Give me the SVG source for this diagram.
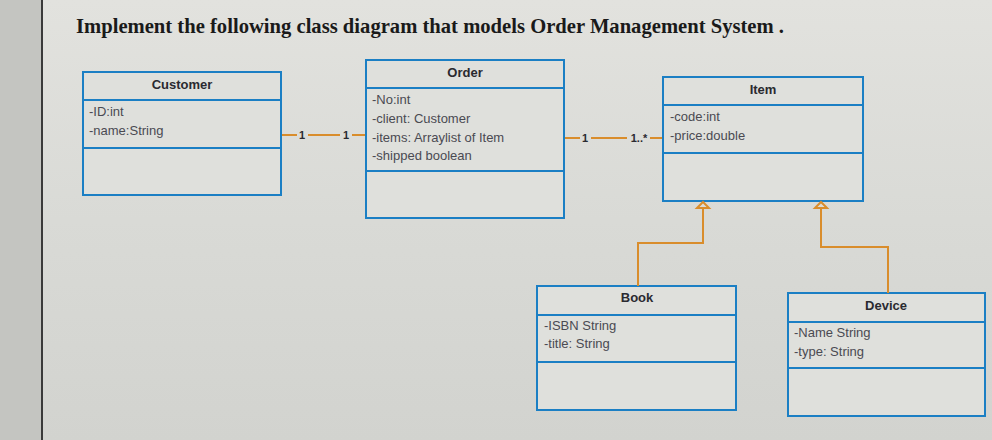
<svg xmlns="http://www.w3.org/2000/svg" width="992" height="440" viewBox="0 0 992 440">
<defs>
<linearGradient id="bg" x1="0" y1="0" x2="0" y2="1">
<stop offset="0" stop-color="#e2e2de"/>
<stop offset="0.5" stop-color="#d9dad6"/>
<stop offset="1" stop-color="#d2d3cf"/>
</linearGradient>
<style>
.box{fill:#dfe0dc;stroke:#1b7fc4;stroke-width:2}
.div{stroke:#1b7fc4;stroke-width:2}
.cname{font-family:"Liberation Sans",Arial,sans-serif;font-weight:bold;font-size:13px;fill:#2a2a30;text-anchor:middle}
.attr{font-family:"Liberation Sans",Arial,sans-serif;font-size:13px;fill:#4a4a52}
.con{stroke:#d98d2c;stroke-width:2;fill:none}
.tri{stroke:#d98d2c;stroke-width:2;fill:#dcddd9}
.mult{font-family:"Liberation Sans",Arial,sans-serif;font-weight:bold;font-size:11px;fill:#2a2a30;text-anchor:middle}
</style>
</defs>
<rect x="0" y="0" width="992" height="440" fill="url(#bg)"/>
<rect x="0" y="0" width="42" height="440" fill="#c4c5c1"/>
<line x1="42" y1="0" x2="42" y2="440" stroke="#3a3a3a" stroke-width="2"/>
<text x="76" y="33" font-family="'Liberation Serif','Times New Roman',serif" font-weight="bold" font-size="22" fill="#1a1a1a" textLength="708" lengthAdjust="spacingAndGlyphs">Implement the following class diagram that models Order Management System .</text>

<g id="customer">
<rect class="box" x="83" y="72" width="198" height="123"/>
<line class="div" x1="83" y1="100" x2="281" y2="100"/>
<line class="div" x1="83" y1="148" x2="281" y2="148"/>
<text class="cname" x="182" y="89">Customer</text>
<text class="attr" x="89" y="116">-ID:int</text>
<text class="attr" x="89" y="135">-name:String</text>
</g>

<g id="order">
<rect class="box" x="366" y="60" width="198" height="158"/>
<line class="div" x1="366" y1="88" x2="564" y2="88"/>
<line class="div" x1="366" y1="171" x2="564" y2="171"/>
<text class="cname" x="465" y="77">Order</text>
<text class="attr" x="372" y="104">-No:int</text>
<text class="attr" x="372" y="123">-client: Customer</text>
<text class="attr" x="372" y="142">-items: Arraylist of Item</text>
<text class="attr" x="372" y="160">-shipped boolean</text>
</g>

<g id="item">
<rect class="box" x="663" y="77" width="200" height="124"/>
<line class="div" x1="663" y1="105" x2="863" y2="105"/>
<line class="div" x1="663" y1="153" x2="863" y2="153"/>
<text class="cname" x="763" y="94">Item</text>
<text class="attr" x="670" y="121">-code:int</text>
<text class="attr" x="670" y="140">-price:double</text>
</g>

<g id="book">
<rect class="box" x="537" y="286" width="199" height="124"/>
<line class="div" x1="537" y1="315" x2="736" y2="315"/>
<line class="div" x1="537" y1="362" x2="736" y2="362"/>
<text class="cname" x="637" y="302">Book</text>
<text class="attr" x="544" y="330">-ISBN String</text>
<text class="attr" x="544" y="348">-title: String</text>
</g>

<g id="device">
<rect class="box" x="788" y="293" width="197" height="123"/>
<line class="div" x1="788" y1="322" x2="985" y2="322"/>
<line class="div" x1="788" y1="368" x2="985" y2="368"/>
<text class="cname" x="886" y="310">Device</text>
<text class="attr" x="794" y="337">-Name String</text>
<text class="attr" x="794" y="356">-type: String</text>
</g>

<g id="connectors">
<line class="con" x1="282" y1="135" x2="297" y2="135"/>
<line class="con" x1="308" y1="135" x2="340" y2="135"/>
<line class="con" x1="352" y1="135" x2="365" y2="135"/>
<text class="mult" x="302" y="139">1</text>
<text class="mult" x="346" y="139">1</text>

<line class="con" x1="565" y1="138" x2="580" y2="138"/>
<line class="con" x1="591" y1="138" x2="627" y2="138"/>
<line class="con" x1="650" y1="138" x2="662" y2="138"/>
<text class="mult" x="585" y="142">1</text>
<text class="mult" x="639" y="142" font-weight="normal">1..*</text>

<polyline class="con" points="638,286 638,243 703,243 703,208"/>
<polygon class="tri" points="703,202 697,208 709,208"/>
<polyline class="con" points="888,293 888,247 821,247 821,208"/>
<polygon class="tri" points="821,202 815,208 827,208"/>
</g>
</svg>
